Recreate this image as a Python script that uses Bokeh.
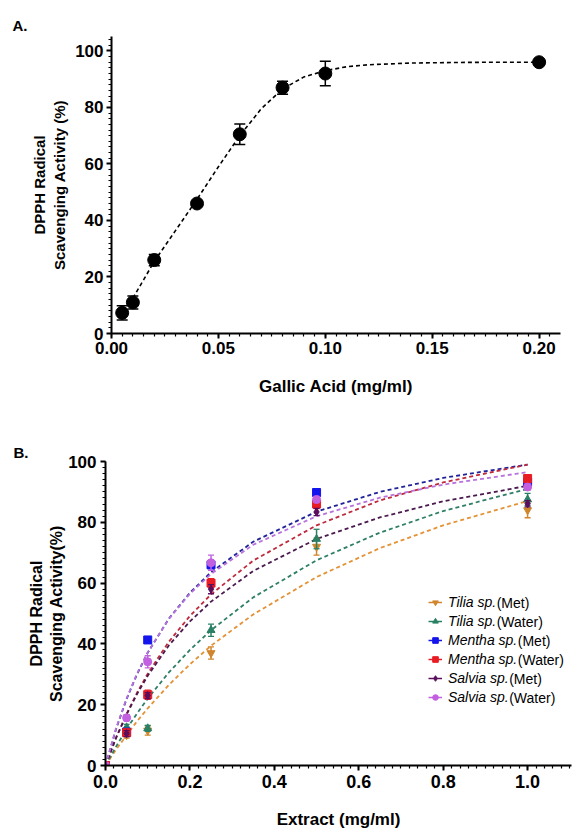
import pandas as pd
from bokeh.plotting import figure
from bokeh.models import (ColumnDataSource, Label, Legend, LegendItem, Range1d, Title,
                          SingleIntervalTicker, NumeralTickFormatter)
from bokeh.embed import file_html
from bokeh.resources import INLINE

FONT = "Liberation Sans"

# ---------------- Panel A data ----------------
gallic_conc = [0.005, 0.01, 0.02, 0.04, 0.06, 0.08, 0.10, 0.20]
gallic_act = [7.3, 11.0, 26.0, 46.0, 70.5, 87.0, 92.0, 96.0]
gallic_err = [2.5, 2.3, 2.0, 0.8, 3.6, 2.3, 4.3, 0.5]
gallic_fit_x = [0.01, 0.015, 0.02, 0.03, 0.04, 0.05, 0.06, 0.07, 0.08, 0.09,
                0.10, 0.11, 0.12, 0.14, 0.16, 0.18, 0.20]
gallic_fit_y = [12.5, 19.0, 25.5, 36.5, 47.5, 59.0, 70.0, 79.5, 86.5, 90.8,
                93.0, 94.4, 95.1, 95.7, 95.9, 96.0, 96.0]

# ---------------- Panel B data ----------------
extract_conc = [0, 0.05, 0.1, 0.25, 0.5, 1.0]
series_names = ["Tilia sp.", "Tilia sp.", "Mentha sp.", "Mentha sp.", "Salvia sp.", "Salvia sp."]
series_suffix = ["(Met)", "(Water)", "(Met)", "(Water)", "(Met)", "(Water)"]
tilia_met = [0, 10.0, 11.5, 37.0, 72.0, 84.0]
tilia_met_err = [0, 1.0, 1.5, 2.0, 2.8, 2.5]
tilia_water = [0, 12.5, 12.2, 44.5, 74.5, 87.5]
tilia_water_err = [0, 1.0, 1.0, 2.0, 3.2, 2.0]
mentha_met = [0, 11.0, 41.3, 66.0, 89.8, 93.2]
mentha_met_err = [0, 0.8, 1.0, 1.2, 1.2, 1.0]
mentha_water = [0, 10.8, 23.3, 60.0, 86.0, 94.4]
mentha_water_err = [0, 1.0, 1.5, 1.5, 1.5, 1.2]
salvia_met = [0, 10.5, 23.0, 58.0, 83.4, 86.1]
salvia_met_err = [0, 1.0, 1.0, 1.5, 1.2, 1.0]
salvia_water = [0, 15.7, 34.1, 66.7, 87.5, 91.6]
salvia_water_err = [0, 1.0, 2.0, 2.5, 1.0, 1.0]

fit_x = [0, 0.025, 0.05, 0.075, 0.1, 0.15, 0.2, 0.25, 0.35, 0.5, 0.65, 0.8, 1.0]
tilia_met_fit = [0, 5.2, 10.0, 14.6, 18.8, 26.5, 33.3, 39.4, 49.7, 62.0, 71.5, 79.0, 87.0]
tilia_water_fit = [0, 6.2, 12.0, 17.2, 22.0, 30.6, 38.0, 44.5, 55.3, 67.5, 76.6, 83.7, 91.0]
mentha_met_fit = [0, 12.0, 21.9, 30.1, 37.1, 48.3, 56.8, 63.6, 73.6, 83.5, 90.0, 94.6, 99.0]
mentha_water_fit = [0, 9.1, 17.0, 24.0, 30.2, 40.7, 49.2, 56.3, 67.4, 79.0, 87.2, 93.1, 99.0]
salvia_met_fit = [0, 9.1, 16.8, 23.6, 29.5, 39.5, 47.4, 53.9, 64.0, 74.5, 81.6, 86.9, 92.0]
salvia_water_fit = [0, 12.2, 22.1, 30.3, 37.2, 48.2, 56.5, 63.0, 72.6, 82.0, 88.1, 92.4, 96.5]

series_vals = [tilia_met, tilia_water, mentha_met, mentha_water, salvia_met, salvia_water]
series_errs = [tilia_met_err, tilia_water_err, mentha_met_err, mentha_water_err,
               salvia_met_err, salvia_water_err]
series_fits = [tilia_met_fit, tilia_water_fit, mentha_met_fit, mentha_water_fit,
               salvia_met_fit, salvia_water_fit]
marker_colors = ["#D0862C", "#2A8064", "#1414EC", "#E81C24", "#5A0E5C", "#C260E0"]
curve_colors = ["#E39236", "#2E7F66", "#22229A", "#BE2A3C", "#4A1A4E", "#B872DC"]
markers = ["inverted_triangle", "triangle", "square", "square", "diamond", "circle"]


def style_axes(p, xtick_size, ytick_size, ylab_size):
    p.outline_line_color = None
    p.xgrid.visible = False
    p.ygrid.visible = False
    p.background_fill_color = "white"
    p.border_fill_color = "white"
    for ax in (p.xaxis[0], p.yaxis[0]):
        ax.axis_line_width = 2
        ax.axis_line_color = "black"
        ax.major_tick_line_width = 2
        ax.major_tick_line_color = "black"
        ax.minor_tick_line_width = 1.2
        ax.minor_tick_line_color = "black"
        ax.major_tick_out = 5
        ax.major_tick_in = 0
        ax.minor_tick_out = 3
        ax.minor_tick_in = 0
        ax.major_label_text_font = FONT
        ax.major_label_text_font_style = "bold"
        ax.major_label_text_color = "black"
        ax.axis_label_text_font = FONT
        ax.axis_label_text_font_style = "bold"
        ax.axis_label_text_color = "black"
    p.xaxis.major_label_text_font_size = xtick_size
    p.yaxis.major_label_text_font_size = ytick_size
    p.xaxis.axis_label_text_font_size = "17px"
    p.yaxis.axis_label_text_font_size = ylab_size


def panel_title(text, offset, standoff):
    return Title(text=text, align="left", offset=offset, standoff=standoff,
                 text_font=FONT, text_font_style="bold", text_font_size="15px",
                 text_color="black")


# ---------------- Figure A ----------------
pA = figure(width=572, height=408, x_range=Range1d(0, 0.21), y_range=Range1d(0, 105.1),
            output_backend="svg", toolbar_location=None,
            min_border_left=111, min_border_right=12, min_border_top=36, min_border_bottom=75)
style_axes(pA, "17px", "17px", "15px")
pA.xaxis.ticker = SingleIntervalTicker(interval=0.05, num_minor_ticks=10)
pA.xaxis.formatter = NumeralTickFormatter(format="0.00")
pA.yaxis.ticker = SingleIntervalTicker(interval=20, num_minor_ticks=10)
pA.xaxis.axis_label = "Gallic Acid (mg/ml)"
pA.yaxis.axis_label = "DPPH Radical\nScavenging Activity (%)"
pA.xaxis.major_label_standoff = 3
pA.yaxis.major_label_standoff = 3
pA.xaxis.axis_label_standoff = 20
pA.yaxis.axis_label_standoff = 4
pA.add_layout(panel_title("A.", -99, 5), "above")

srcA = ColumnDataSource(dict(
    x=gallic_conc, y=gallic_act,
    lo=[v - e for v, e in zip(gallic_act, gallic_err)],
    hi=[v + e for v, e in zip(gallic_act, gallic_err)],
))
pA.line(gallic_fit_x, gallic_fit_y, line_color="black", line_width=1.6, line_dash="4 3")
pA.segment(x0="x", y0="lo", x1="x", y1="hi", source=srcA, line_color="black", line_width=1.5)
pA.scatter(x="x", y="lo", source=srcA, marker="dash", size=11, line_color="black", line_width=1.5)
pA.scatter(x="x", y="hi", source=srcA, marker="dash", size=11, line_color="black", line_width=1.5)
pA.scatter(x="x", y="y", source=srcA, marker="circle", size=13, fill_color="black", line_color="black")

# ---------------- Figure B ----------------
pB = figure(width=572, height=423, x_range=Range1d(0, 1.104), y_range=Range1d(0, 100),
            output_backend="svg", toolbar_location=None,
            min_border_left=105, min_border_right=1, min_border_top=53, min_border_bottom=62)
style_axes(pB, "18px", "17px", "16px")
pB.xaxis.ticker = SingleIntervalTicker(interval=0.2, num_minor_ticks=10)
pB.xaxis.formatter = NumeralTickFormatter(format="0.0")
pB.yaxis.ticker = SingleIntervalTicker(interval=20, num_minor_ticks=10)
pB.xaxis.axis_label = "Extract (mg/ml)"
pB.yaxis.axis_label = "DPPH Radical\nScavenging Activity(%)"
pB.xaxis.major_label_standoff = 4
pB.yaxis.major_label_standoff = 4
pB.xaxis.axis_label_standoff = 19
pB.yaxis.axis_label_standoff = 0
pB.add_layout(panel_title("B.", -92, 2), "above")

for fit, cc in zip(series_fits, curve_colors):
    pB.line(fit_x, fit, line_color=cc, line_width=1.8, line_dash="4 3")

legend_items = []
for name, vals, errs, mc, mk in zip(series_names, series_vals, series_errs, marker_colors, markers):
    src = ColumnDataSource(dict(
        x=extract_conc, y=vals,
        lo=[v - e for v, e in zip(vals, errs)],
        hi=[v + e for v, e in zip(vals, errs)],
    ))
    seg = pB.segment(x0="x", y0="lo", x1="x", y1="hi", source=src, line_color=mc, line_width=1.5)
    pB.scatter(x="x", y="lo", source=src, marker="dash", size=6, line_color=mc, line_width=1.3)
    pB.scatter(x="x", y="hi", source=src, marker="dash", size=6, line_color=mc, line_width=1.3)
    sc = pB.scatter(x="x", y="y", source=src, marker=mk, size=8, fill_color=mc, line_color=mc)
    legend_items.append(LegendItem(label=name, renderers=[seg, sc]))

LEG_X = 323
LEG_Y = 60
ROW_H = 16
SPACING = 3
STANDOFF = 6
legend = Legend(items=legend_items, location=(LEG_X, LEG_Y),
                label_text_font=FONT, label_text_font_style="italic",
                label_text_font_size="14px", label_text_color="black",
                glyph_width=14, glyph_height=ROW_H, label_height=ROW_H, spacing=SPACING,
                padding=0, margin=0, label_standoff=STANDOFF,
                border_line_alpha=0, background_fill_alpha=0)
pB.add_layout(legend)

name_widths = {"Tilia sp.": 48.2, "Mentha sp.": 69.3, "Salvia sp.": 60.7}
legend_h = 6 * ROW_H + 5 * SPACING
for i, (name, suf) in enumerate(zip(series_names, series_suffix)):
    y_center = LEG_Y + legend_h - ROW_H / 2 - i * (ROW_H + SPACING)
    x_text = LEG_X + 14 + STANDOFF + name_widths[name]
    pB.add_layout(Label(x=x_text, y=y_center, x_units="screen", y_units="screen", text=suf,
                        text_font=FONT, text_font_style="normal", text_font_size="14px",
                        text_baseline="middle", text_align="left", text_color="black"))

open("out.html", "w").write(file_html([pA, pB], INLINE))
